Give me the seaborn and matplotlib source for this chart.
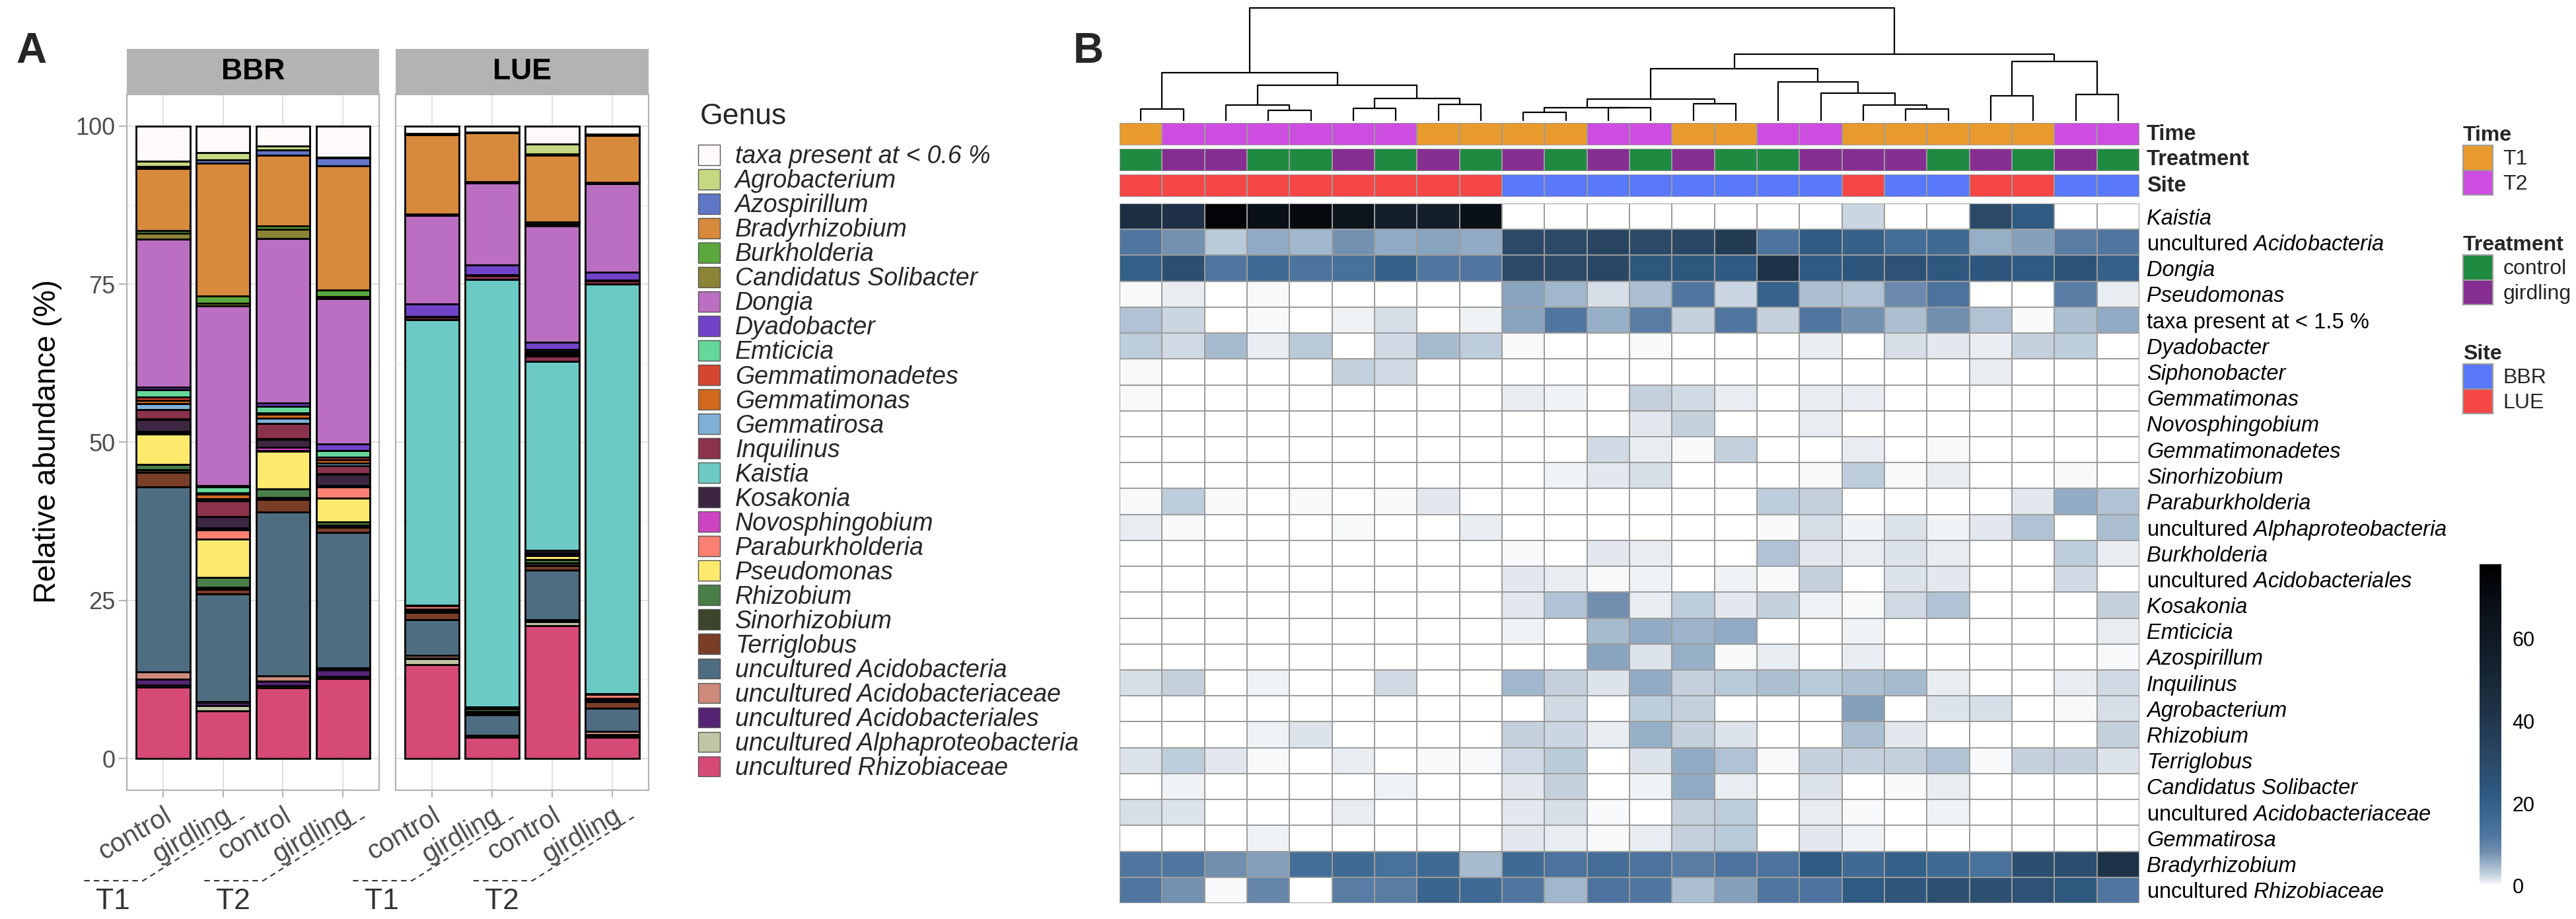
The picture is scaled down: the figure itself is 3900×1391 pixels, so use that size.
import numpy as np
import pandas as pd
import seaborn as sns
import matplotlib.pyplot as plt
import matplotlib.transforms as mtransforms
from matplotlib.colors import LinearSegmentedColormap, ListedColormap
from matplotlib.patches import Patch
from matplotlib.lines import Line2D

sns.set_theme(style="white")
plt.rcParams['font.family'] = ['Liberation Sans', 'DejaVu Sans']
plt.rcParams['mathtext.fontset'] = 'custom'
plt.rcParams['mathtext.rm'] = 'Liberation Sans'
plt.rcParams['mathtext.it'] = 'Liberation Sans:italic'

# ---------------- panel A data ----------------
sites = ["BBR", "LUE"]
treatments = ["control", "girdling", "control", "girdling"]
times = ["T1", "T1", "T2", "T2"]

genera = ["taxa present at < 0.6 %", "Agrobacterium", "Azospirillum", "Bradyrhizobium",
          "Burkholderia", "Candidatus Solibacter", "Dongia", "Dyadobacter", "Emticicia",
          "Gemmatimonadetes", "Gemmatimonas", "Gemmatirosa", "Inquilinus", "Kaistia",
          "Kosakonia", "Novosphingobium", "Paraburkholderia", "Pseudomonas", "Rhizobium",
          "Sinorhizobium", "Terriglobus", "uncultured Acidobacteria",
          "uncultured Acidobacteriaceae", "uncultured Acidobacteriales",
          "uncultured Alphaproteobacteria", "uncultured Rhizobiaceae"]

genus_colors = ["#FFFAFA", "#C6D881", "#6076C7", "#D7893C", "#5AA83D", "#8B8335",
                "#BB6FC2", "#7143C9", "#66D79B", "#D54630", "#D2691E", "#80B0D7",
                "#8B324C", "#6CCAC4", "#3C2641", "#CD44C2", "#FA8072", "#FFEA6E",
                "#4A7E49", "#3C452B", "#7A3D27", "#4F6D80", "#CD8A7A", "#542373",
                "#C2C5A5", "#D64A76"]

# values follow the order of `genera` (top of the stack first)
bbr_t1_control = [5.5, 0.9, 0.3, 9.8, 0.4, 1.0, 23.4, 0.4, 1.1, 0.6, 0.5, 0.9, 1.5, 0.1,
                  1.9, 0.2, 0.2, 4.8, 0.8, 0.5, 2.2, 29.3, 1.1, 1.0, 0.3, 11.3]
bbr_t1_girdling = [4.2, 1.1, 0.6, 21.0, 1.1, 0.4, 28.4, 0.2, 1.0, 0.2, 0.7, 0.3, 2.5, 0.1,
                   1.7, 0.3, 1.5, 6.1, 1.5, 0.3, 0.8, 17.0, 0.1, 0.5, 0.9, 7.5]
bbr_t2_control = [3.1, 0.7, 0.8, 11.2, 0.5, 1.5, 26.0, 0.5, 1.0, 0.3, 0.6, 0.8, 2.4, 0.1,
                  1.3, 0.5, 0.1, 6.0, 1.3, 0.3, 2.0, 25.9, 0.9, 0.7, 0.3, 11.2]
bbr_t2_girdling = [4.9, 0.1, 1.3, 19.6, 1.1, 0.3, 23.0, 1.0, 1.0, 0.5, 0.5, 0.4, 1.3, 0.1,
                   1.7, 0.2, 1.8, 3.8, 0.5, 0.3, 0.9, 21.4, 0.3, 1.0, 0.3, 12.7]
lue_t1_control = [1.2, 0.1, 0.1, 12.5, 0.1, 0.1, 14.0, 2.0, 0.1, 0.0, 0.0, 0.0, 0.4, 45.2,
                  0.1, 0.0, 0.5, 0.1, 0.1, 0.3, 1.1, 5.7, 0.4, 0.1, 1.0, 14.8]
lue_t1_girdling = [1.0, 0.1, 0.0, 7.7, 0.1, 0.1, 13.0, 1.5, 0.1, 0.0, 0.0, 0.0, 0.7, 67.5,
                   0.0, 0.0, 0.3, 0.1, 0.4, 0.3, 0.2, 3.2, 0.1, 0.1, 0.1, 3.4]
lue_t2_control = [2.8, 1.6, 0.2, 10.6, 0.3, 0.3, 18.4, 1.1, 0.3, 0.3, 0.3, 0.2, 0.8, 29.9,
                  0.4, 0.1, 0.3, 0.6, 0.6, 0.4, 0.7, 7.8, 0.3, 0.1, 0.6, 21.0]
lue_t2_girdling = [1.3, 0.1, 0.1, 7.4, 0.1, 0.1, 14.0, 1.3, 0.1, 0.0, 0.0, 0.0, 0.5, 64.8,
                   0.1, 0.0, 0.6, 0.1, 0.1, 0.3, 1.0, 3.7, 0.5, 0.3, 0.1, 3.4]

# ---------------- panel B data ----------------
heat_rows = ["Kaistia", "uncultured Acidobacteria", "Dongia", "Pseudomonas",
             "taxa present at < 1.5 %", "Dyadobacter", "Siphonobacter", "Gemmatimonas",
             "Novosphingobium", "Gemmatimonadetes", "Sinorhizobium", "Paraburkholderia",
             "uncultured Alphaproteobacteria", "Burkholderia", "uncultured Acidobacteriales",
             "Kosakonia", "Emticicia", "Azospirillum", "Inquilinus", "Agrobacterium",
             "Rhizobium", "Terriglobus", "Candidatus Solibacter",
             "uncultured Acidobacteriaceae", "Gemmatirosa", "Bradyrhizobium",
             "uncultured Rhizobiaceae"]

heat_values = [
    [45, 43, 75, 68, 72, 65, 55, 55, 68, 0, 0, 0, 0, 0, 0, 0, 0, 2.5, 0, 0, 30, 22, 0, 0],
    [12, 8, 3.5, 6, 5, 8, 6, 6.5, 6, 30, 30, 33, 30, 31, 38, 13, 22, 20, 15, 16, 5.5, 7, 11, 12],
    [20, 27, 12, 16, 13, 14, 20, 12, 12, 30, 30, 31, 23, 23, 22, 42, 22, 24, 26, 23, 24, 22, 25, 20],
    [0.5, 1, 0.3, 0.5, 0, 0, 0, 0, 0, 6.5, 5, 2, 4.5, 12, 2.5, 19, 4.5, 4, 9, 13, 0, 0, 11, 1],
    [4, 2.7, 0.3, 0.6, 0.3, 0.7, 2, 0.3, 0.8, 6.5, 12, 5.5, 11, 3, 12, 2.8, 12, 8, 4.5, 8.5, 4, 0.5, 4.5, 6],
    [3.2, 2.2, 4.7, 1, 3.5, 0.3, 2.4, 4.7, 3.2, 0.5, 0.2, 0, 0.5, 0.3, 0.2, 0, 1, 0.2, 2, 1.5, 1, 2.8, 3.3, 0],
    [0.5, 0, 0, 0, 0, 2.8, 2.4, 0, 0, 0, 0, 0, 0, 0, 0, 0, 0, 0, 0, 0, 1, 0, 0, 0],
    [0.5, 0, 0, 0, 0, 0, 0, 0, 0, 1.2, 0.7, 0, 3, 2.2, 1, 0, 1, 1, 0.3, 0.3, 0, 0, 0, 0.3],
    [0, 0, 0, 0, 0, 0, 0, 0, 0, 0.2, 0.3, 0, 1.3, 2.8, 0.2, 0, 1.2, 0, 0, 0.3, 0, 0, 0, 0],
    [0, 0, 0, 0, 0, 0, 0, 0, 0, 0, 0, 2.4, 1.2, 0.5, 2.8, 0, 0, 1, 0.2, 0.5, 0, 0, 0.3, 0],
    [0, 0, 0, 0, 0, 0, 0, 0, 0, 0, 0.7, 1.5, 2, 0, 0, 0, 0.5, 3.2, 0.5, 1.2, 0, 0, 0.5, 0],
    [0.5, 3.2, 0.5, 0.2, 0.6, 0.2, 0.5, 1.3, 0.3, 0.3, 0.2, 0, 0.2, 0, 0, 3.2, 2.8, 0, 0.2, 0, 0, 1.5, 6, 4],
    [1, 0.4, 0, 0, 0, 0.5, 0, 0.3, 1, 0.3, 0.2, 0, 0, 0, 0, 0.5, 2, 0.7, 1.6, 0.7, 1.5, 4, 0.2, 4.5],
    [0, 0.2, 0, 0, 0, 0, 0, 0, 0, 0.6, 0, 1.3, 1, 0, 0.3, 4, 1.5, 1.2, 1.6, 1.2, 0, 0, 3.3, 1],
    [0, 0.3, 0, 0, 0, 0, 0, 0, 0, 1.3, 1, 0.5, 0.7, 0.3, 0.8, 0.4, 2.8, 0.2, 1.6, 1.5, 0, 0, 2.4, 0],
    [0, 0, 0, 0, 0, 0, 0, 0, 0, 1.3, 4, 8.5, 1.2, 3.2, 1.3, 3, 0.7, 0.4, 2.2, 4, 0, 0, 0, 3],
    [0, 0, 0, 0, 0, 0, 0, 0, 0, 0.7, 0, 4.7, 6, 5.2, 6, 0, 0.2, 0.8, 0, 0, 0, 0, 0, 1],
    [0, 0, 0, 0, 0, 0, 0, 0, 0, 0, 0, 6.5, 1.6, 5.5, 0.6, 1, 0.2, 1, 0, 0.2, 0, 0, 0, 0.5],
    [2, 2.8, 0, 0.7, 0.3, 0.3, 2.4, 0.2, 0, 5, 2.8, 1.6, 6, 2.8, 3.5, 4.5, 3.5, 4.5, 4.7, 1.2, 0.2, 0, 1, 2.2],
    [0.2, 0, 0, 0, 0, 0.3, 0, 0, 0.2, 0, 2.2, 0, 3.2, 2.8, 0.3, 0.3, 0, 7, 0.3, 1.6, 2, 0, 0.5, 2],
    [0, 0, 0, 0.7, 1.6, 0, 0, 0, 0.2, 2.8, 2.6, 1, 5.5, 3, 1.6, 0, 0.3, 4.5, 1.5, 0, 0, 0.2, 0, 2.8],
    [1.6, 3.2, 1.5, 0.5, 0.2, 1, 0.3, 0.5, 0.5, 2.4, 3.5, 0, 1.6, 6, 4, 0.5, 2.8, 3, 2.8, 4, 0.5, 3, 2.8, 1.6],
    [0.2, 0.7, 0, 0.2, 0, 0, 0.8, 0.2, 0, 1.3, 2.8, 0, 0.7, 6, 1, 0.3, 1.6, 0.2, 0.5, 1.2, 0.2, 0, 0.2, 0],
    [2, 1.6, 0, 0.3, 0, 1.2, 0.3, 0, 0, 1.5, 2, 0.5, 0.3, 2.8, 3.2, 0, 1.2, 0.5, 0.2, 0.8, 0.3, 0.3, 0, 0],
    [0, 0, 0, 0.7, 0, 0, 0, 0, 0, 1.3, 1, 0.5, 1.2, 3, 3.5, 0, 1.5, 0.7, 0.3, 0.2, 0, 0, 0, 0.3],
    [12, 12, 8.5, 7, 15, 16, 14, 16, 4.7, 16, 13, 15, 13, 11, 13, 13, 22, 16, 20, 16, 14, 28, 28, 42],
    [12, 8, 0.5, 9.5, 0, 11, 11, 18, 16, 12, 5, 13, 12, 4.5, 7, 12, 13, 22, 24, 27, 27, 26, 23, 12],
]

time_annot = ["T1", "T2", "T2", "T2", "T2", "T2", "T2", "T1", "T1", "T1", "T1", "T2",
              "T2", "T1", "T1", "T2", "T2", "T1", "T1", "T1", "T1", "T1", "T2", "T2"]
treatment_annot = ["control", "girdling", "girdling", "control", "control", "girdling",
                   "control", "girdling", "control", "girdling", "control", "girdling",
                   "control", "girdling", "control", "control", "girdling", "girdling",
                   "girdling", "control", "girdling", "control", "girdling", "control"]
site_annot = ["LUE", "LUE", "LUE", "LUE", "LUE", "LUE", "LUE", "LUE", "LUE", "BBR", "BBR",
              "BBR", "BBR", "BBR", "BBR", "BBR", "BBR", "LUE", "BBR", "BBR", "LUE", "LUE",
              "BBR", "BBR"]

# column dendrogram: (left, right, height); ids < 24 are leaves, 24+k is merge k
dendro_merges = [(0, 1, 55), (3, 4, 48), (2, 25, 73), (5, 6, 58), (7, 8, 76), (27, 28, 102),
                 (26, 29, 162), (24, 30, 220), (9, 10, 38), (11, 12, 59), (32, 33, 61),
                 (13, 14, 79), (34, 35, 100), (18, 19, 53), (17, 37, 72), (16, 38, 125),
                 (15, 39, 178), (36, 40, 237), (20, 21, 114), (22, 23, 120), (42, 43, 270),
                 (41, 44, 303), (31, 45, 515)]

annot_colors = {"Time": {"T1": "#E99A2C", "T2": "#CC4DE0"},
                "Treatment": {"control": "#1F8B41", "girdling": "#862E92"},
                "Site": {"BBR": "#5A78FA", "LUE": "#F64747"}}

heat_cmap = LinearSegmentedColormap.from_list("abund", [
    (0 / 78, "#ffffff"), (0.5 / 78, "#f3f5f8"), (1 / 78, "#e6ebf0"), (2 / 78, "#d3dce5"),
    (3 / 78, "#bfcedb"), (4.5 / 78, "#a8bccf"), (6 / 78, "#8fa9c2"), (8 / 78, "#7390b0"),
    (12 / 78, "#4f76a0"), (16 / 78, "#3f6a94"), (22 / 78, "#2f5a82"), (30 / 78, "#2b4a68"),
    (42 / 78, "#1f3348"), (55 / 78, "#13202c"), (68 / 78, "#0a1018"), (1.0, "#000000")])

# ---------------- figure ----------------
W, H = 3900, 1391
fig = plt.figure(figsize=(W / 100, H / 100), dpi=100)


def box(l, t, r, b):
    return [l / W, 1 - b / H, (r - l) / W, (b - t) / H]


rows = []
samples = {"BBR": [bbr_t1_control, bbr_t1_girdling, bbr_t2_control, bbr_t2_girdling],
           "LUE": [lue_t1_control, lue_t1_girdling, lue_t2_control, lue_t2_girdling]}
for site in sites:
    for pos, vals in enumerate(samples[site]):
        for g, v in zip(genera, vals):
            rows.append((site, pos, g, v))
bars = pd.DataFrame(rows, columns=["site", "pos", "genus", "value"])
palette = dict(zip(genera, genus_colors))

panel_x = [(192, 574), (599, 982)]
for k, site in enumerate(sites):
    l, r = panel_x[k]
    ax = fig.add_axes(box(l, 143, r, 1196))
    sub = bars[(bars.site == site) & (bars.value > 0)]
    sns.histplot(data=sub, x="pos", weights="value", hue="genus", hue_order=genera,
                 palette=palette, multiple="stack", discrete=True, shrink=0.9,
                 edgecolor="black", linewidth=2, alpha=1, legend=False, ax=ax)
    ax.set_xlim(-0.6, 3.6)
    ax.set_ylim(-5, 105)
    ax.set_yticks([0, 25, 50, 75, 100])
    ax.set_yticks([12.5, 37.5, 62.5, 87.5], minor=True)
    ax.set_xticks(range(4))
    ax.set_axisbelow(True)
    ax.grid(which="major", color="#dedede", lw=1.3)
    ax.grid(which="minor", axis="y", color="#efefef", lw=1.0)
    ax.set_xlabel("")
    ax.set_ylabel("")
    for s in ax.spines.values():
        s.set_color("#b3b3b3")
        s.set_linewidth(1.6)
    ax.set_xticklabels(treatments, rotation=30, ha="right", rotation_mode="anchor",
                       fontsize=29, color="#4d4d4d")
    ax.tick_params(axis="x", length=8, width=1.5, color="#b3b3b3", pad=6, bottom=True)
    if k == 0:
        ax.set_yticklabels(["0", "25", "50", "75", "100"], fontsize=26, color="#4d4d4d")
        ax.tick_params(axis="y", which="major", length=8.5, width=1.5, color="#b3b3b3",
                       pad=4, left=True)
    else:
        ax.set_yticklabels([])
        ax.tick_params(axis="y", which="major", length=0)
    ax.tick_params(axis="y", which="minor", length=0)

    # facet strip
    sax = fig.add_axes(box(l, 74, r, 143))
    sax.set_facecolor("#b3b3b3")
    sax.set_xticks([])
    sax.set_yticks([])
    for s in sax.spines.values():
        s.set_visible(False)
    sax.text(0.5, 0.5, site, ha="center", va="center", fontsize=32, weight="bold",
             color="black", transform=sax.transAxes)

    # nested time axis
    trans = mtransforms.blended_transform_factory(ax.transData, fig.transFigure)
    y_h = 1 - 1333 / H
    y_d = 1 - 1234 / H
    for p, t in ((0, times[0]), (2, times[2])):
        ln = Line2D([p - 1.31, p - 0.33, p + 1.40], [y_h, y_h, y_d], transform=trans,
                    color="#333333", lw=1.5, ls=(0, (4, 3)), clip_on=False)
        fig.add_artist(ln)
        fig.text(p - 0.83, 1 - 1364 / H, t, transform=trans, fontsize=32,
                 color="#333333", ha="center", va="center")

fig.text(72 / W, 1 - 668 / H, "Relative abundance (%)", rotation=90, fontsize=33,
         ha="center", va="center", color="black")
fig.text(24 / W, 1 - 48 / H, "A", fontsize=46, weight="bold", ha="left", va="top")

handles = [Patch(facecolor=c, edgecolor="#555555", linewidth=1.0) for c in genus_colors]
fig.text(1060 / W, 1 - 177 / H, "Genus", fontsize=32, ha="left", va="center")
fig.legend(handles, genera, loc="upper left", bbox_to_anchor=(1057 / W, 1 - 219 / H),
           prop={"style": "italic", "size": 27}, frameon=False, handlelength=0.88,
           handleheight=0.88, labelspacing=0.02, handletextpad=0.62, borderpad=0,
           borderaxespad=0)

# ---------------- panel B ----------------
HL, HR = 1695, 3239
heat = pd.DataFrame(heat_values, index=heat_rows)
hax = fig.add_axes(box(HL, 308, HR, 1367))
cax = fig.add_axes(box(3754, 854, 3787, 1341))
sns.heatmap(heat, cmap=heat_cmap, vmin=0, vmax=78, linewidths=1.3, linecolor="#9c9c9c",
            xticklabels=False, yticklabels=True, cbar_ax=cax,
            cbar_kws={"ticks": [0, 20, 40, 60]}, ax=hax)


def row_label(name):
    if name.startswith("uncultured "):
        return "uncultured $\\mathit{" + name.split(" ", 1)[1] + "}$"
    return name


hax.yaxis.tick_right()
hax.set_yticklabels([row_label(n) for n in heat_rows], rotation=0, fontsize=23.5,
                    color="black")
for lab, n in zip(hax.get_yticklabels(), heat_rows):
    if not (n.startswith("uncultured ") or n.startswith("taxa")):
        lab.set_fontstyle("italic")
hax.tick_params(axis="y", length=0, pad=8, right=False, left=False)
hax.set_ylabel("")
hax.set_xlabel("")

cbar = hax.collections[0].colorbar
cbar.outline.set_visible(False)
cbar.ax.tick_params(length=0, labelsize=22, pad=12, colors="black")

annot_rows = [("Time", time_annot, 186, 220), ("Treatment", treatment_annot, 225, 259),
              ("Site", site_annot, 264, 298)]
for name, vals, t, b in annot_rows:
    levels = list(annot_colors[name].keys())
    codes = pd.DataFrame([[levels.index(v) for v in vals]])
    aax = fig.add_axes(box(HL, t, HR, b))
    sns.heatmap(codes, cmap=ListedColormap([annot_colors[name][lv] for lv in levels]),
                vmin=-0.5, vmax=1.5, cbar=False, linewidths=1.3, linecolor="#9c9c9c",
                xticklabels=False, yticklabels=False, ax=aax)
    fig.text(3250 / W, 1 - (t + b) / 2 / H, name, fontsize=23.5, weight="bold",
             ha="left", va="center")

# dendrogram
dax = fig.add_axes(box(HL, 12, HR, 183))
n_leaf = len(time_annot)
node_x = {i: i + 0.5 for i in range(n_leaf)}
node_h = {i: 0 for i in range(n_leaf)}
for k, (a, b, h) in enumerate(dendro_merges):
    xa, xb = node_x[a], node_x[b]
    dax.plot([xa, xa, xb, xb], [node_h[a], h, h, node_h[b]], color="black", lw=1.6,
             solid_capstyle="butt", clip_on=False)
    node_x[n_leaf + k] = (xa + xb) / 2
    node_h[n_leaf + k] = h
dax.set_xlim(0, n_leaf)
dax.set_ylim(0, max(m[2] for m in dendro_merges))
dax.axis("off")

fig.text(1625 / W, 1 - 48 / H, "B", fontsize=46, weight="bold", ha="left", va="top")

# annotation legends
leg_tops = [("Time", 190), ("Treatment", 356), ("Site", 521)]
for name, top in leg_tops:
    levels = list(annot_colors[name].keys())
    hs = [Patch(facecolor=annot_colors[name][lv], edgecolor="#9c9c9c", linewidth=1.5)
          for lv in levels]
    fig.legend(hs, levels, loc="upper left", bbox_to_anchor=(3729 / W, 1 - top / H),
               title=name, title_fontproperties={"weight": "bold", "size": 23},
               fontsize=23, frameon=False, handlelength=1.4, handleheight=1.44,
               labelspacing=0, handletextpad=0.5, borderpad=0, borderaxespad=0,
               alignment="left")

fig.savefig("out.png", dpi=100)
